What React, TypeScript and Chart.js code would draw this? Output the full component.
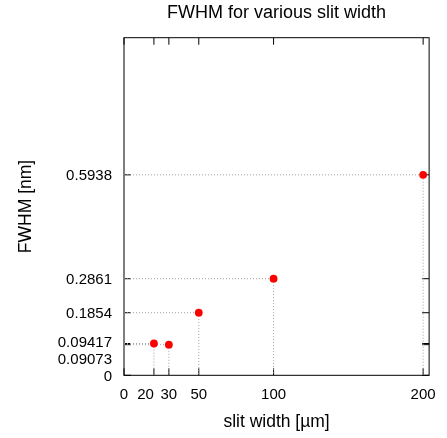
import React, { useEffect, useRef } from "react";
import { Chart, registerables } from "chart.js";

Chart.register(...registerables);

// ---- data ----
const slitWidths = [20, 30, 50, 100, 200];
const fwhmValues = [0.09417, 0.09073, 0.1854, 0.2861, 0.5938];
const xTickValues = [0, 20, 30, 50, 100, 200];
const xTickLabels = ["0", "20", "30", "50", "100", "200"];
const yTickValues = [0, 0.09073, 0.09417, 0.1854, 0.2861, 0.5938];
const yTickLabels = ["0", "0.09073", "0.09417", "0.1854", "0.2861", "0.5938"];
const xRange = [0, 204];
const yRange = [0, 1];
const titleText = "FWHM for various slit width";
const xTitle = "slit width [µm]";
const yTitle = "FWHM [nm]";

const FONT = "'Liberation Sans', Arial, Helvetica, sans-serif";
const TICK_SIZE = 15;
const TITLE_SIZE = 17.5;

const framePlugin = {
  id: "frameTicks",
  beforeDatasetsDraw(chart: any) {
    const { ctx, chartArea } = chart;
    const { left, right, top, bottom } = chartArea;
    const xs = chart.scales.x;
    const ys = chart.scales.y;
    const L = 7;
    ctx.save();
    ctx.strokeStyle = "#000";
    ctx.lineWidth = 1;
    ctx.beginPath();
    xs.ticks.forEach((t: any) => {
      const px = xs.getPixelForValue(t.value);
      ctx.moveTo(px, bottom);
      ctx.lineTo(px, bottom - L);
      ctx.moveTo(px, top);
      ctx.lineTo(px, top + L);
    });
    ys.ticks.forEach((t: any) => {
      const py = ys.getPixelForValue(t.value);
      ctx.moveTo(left, py);
      ctx.lineTo(left + L, py);
      ctx.moveTo(right, py);
      ctx.lineTo(right - L, py);
    });
    ctx.stroke();
    ctx.strokeRect(left, top, right - left, bottom - top);
    ctx.restore();
  },
};

export default function App() {
  const ref = useRef<HTMLCanvasElement>(null);

  useEffect(() => {
    if (!ref.current) return;
    const guideSets = slitWidths.map((sx, i) => ({
      type: "line" as const,
      data: [
        { x: 0, y: fwhmValues[i] },
        { x: sx, y: fwhmValues[i] },
        { x: sx, y: 0 },
      ],
      borderColor: "#a0a0a0",
      borderWidth: 1,
      borderDash: [1, 2],
      pointRadius: 0,
      fill: false,
      tension: 0,
    }));
    const chart = new Chart(ref.current, {
      type: "scatter",
      data: {
        datasets: [
          {
            type: "scatter" as const,
            data: slitWidths.map((sx, i) => ({ x: sx, y: fwhmValues[i] })),
            backgroundColor: "#ff0000",
            borderColor: "#ff0000",
            borderWidth: 0,
            pointRadius: 3.9,
          },
          ...guideSets,
        ] as any,
      },
      options: {
        animation: false,
        responsive: false,
        layout: { padding: { left: 0, right: 17.7, top: 0, bottom: 0 } },
        plugins: {
          legend: { display: false },
          tooltip: { enabled: false },
          title: {
            display: true,
            text: titleText,
            fullSize: false,
            color: "#000",
            font: { family: FONT, size: 18, weight: "normal", lineHeight: 1.2 },
            padding: { top: 2, bottom: 14.1 },
          },
        },
        scales: {
          x: {
            type: "linear",
            min: xRange[0],
            max: xRange[1],
            afterBuildTicks: (s: any) => {
              s.ticks = xTickValues.map((v) => ({ value: v }));
            },
            afterFit: (s: any) => {
              s.height = 62.7;
            },
            grid: { display: false, drawTicks: false },
            border: { display: false },
            ticks: {
              autoSkip: false,
              maxRotation: 0,
              padding: 11,
              color: "#000",
              font: { family: FONT, size: TICK_SIZE },
              callback: (_v: any, i: number) => {
                const lab = xTickLabels[i];
                // "20" label sits left of its tick (as in the original) to clear "30"
                return lab === "20" ? lab + "    " : lab;
              },
            },
            title: {
              display: true,
              text: xTitle,
              color: "#000",
              font: { family: FONT, size: TITLE_SIZE },
              padding: { top: 4, bottom: 5 },
            },
          },
          y: {
            type: "linear",
            min: yRange[0],
            max: yRange[1],
            afterBuildTicks: (s: any) => {
              s.ticks = yTickValues.map((v) => ({ value: v }));
            },
            afterFit: (s: any) => {
              s.width = 124;
            },
            grid: { display: false, drawTicks: false },
            border: { display: false },
            ticks: {
              autoSkip: false,
              padding: 12,
              color: "#000",
              font: (ctx: any) => {
                const i = ctx.index;
                if (yTickLabels[i] === "0.09073") return { family: FONT, size: TICK_SIZE, lineHeight: "30px" };
                if (yTickLabels[i] === "0.09417") return { family: FONT, size: TICK_SIZE, lineHeight: "2px" };
                return { family: FONT, size: TICK_SIZE, lineHeight: "3px" };
              },
              callback: (_v: any, i: number) => {
                const lab = yTickLabels[i];
                if (lab === "0.09417") return [lab, ""];
                return ["", lab];
              },
            },
            title: {
              display: true,
              text: yTitle,
              color: "#000",
              font: { family: FONT, size: TITLE_SIZE },
              padding: { top: 16, bottom: 0 },
            },
          },
        },
      },
      plugins: [framePlugin],
    });
    return () => chart.destroy();
  }, []);

  return (
    <div style={{ position: "absolute", left: 0, top: 0, width: 447, height: 438, background: "#fff" }}>
      <canvas ref={ref} width={447} height={438} style={{ display: "block" }} />
    </div>
  );
}
